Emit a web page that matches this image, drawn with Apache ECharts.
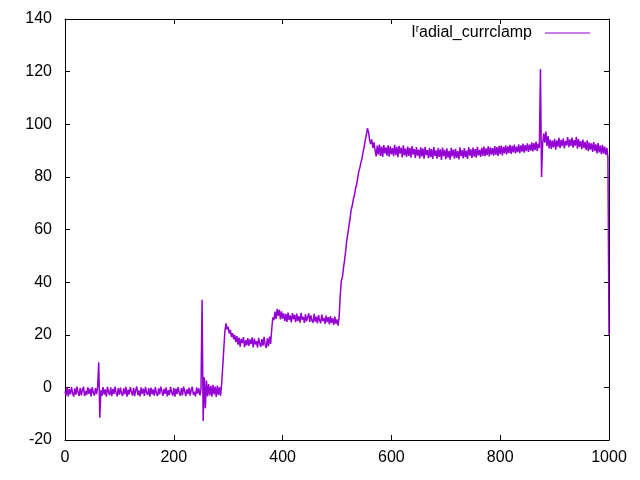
<!DOCTYPE html>
<html>
<head>
<meta charset="utf-8">
<script src="https://cdn.jsdelivr.net/npm/echarts@6/dist/echarts.min.js"></script>
<style>html,body{margin:0;padding:0;background:#fff}#c{width:640px;height:480px}</style>
</head>
<body>
<div id="c"></div>
<script>
const seriesName = 'I_radial_currclamp';
const sampleStep = 2; // x spacing of the samples below (x = 0, 2, 4, ... 1000)
const xTicks = [0, 200, 400, 600, 800, 1000];
const yTicks = [-20, 0, 20, 40, 60, 80, 100, 120, 140];
const currentValues = [
-1.5,-3.1,0.2,-3.4,-0.7,-2.6,0.1,-2.2,-3.5,-0.4,
-2.8,0.3,-1.9,-3.2,-0.2,-3.0,-1.0,0.2,-3.3,-1.4,
-2.9,0.0,-2.5,-0.5,-3.4,0.1,-2.0,-3.1,-0.3,-2.6,
0.3,9.5,-11.5,
-1.1,-3.2,0.1,-2.7,-0.8,-3.5,0.2,-1.8,-3.0,0.0,
-3.3,-0.6,-2.5,0.3,-2.1,-3.4,-0.3,-2.8,-0.1,-2.4,
-3.2,-0.4,-2.6,0.2,-3.5,-0.9,-2.7,0.1,-1.6,-3.1,
-0.2,-3.3,-1.0,0.3,-3.0,-1.2,-3.4,0.0,-2.5,-0.5,
-3.2,0.2,-2.0,-2.9,-0.3,-3.5,-0.1,-2.6,-0.8,-3.1,
0.1,-2.2,-3.3,-0.4,-2.7,0.3,-1.4,-3.2,-0.6,-2.5,
0.0,-3.4,-1.1,-2.9,0.2,-1.9,-3.1,-0.2,-3.5,-0.5,
-2.6,0.1,-2.1,-3.2,-0.3,-3.0,0.3,-1.5,-3.3,-0.8,
-2.5,-0.1,-3.1,-1.0,0.2,-2.9,-1.7,-3.4,0.0,-2.4,
-0.4,-3.0,
-0.8,33.3,-12.8,3.8,-7.9,2.6,-3.4,1.3,-3.1,0.6,-3.5,1.0,-2.7,0.3,-3.6,0.7,-2.9,0.1,-3.2,
1.5,8.0,15.0,21.5,24.3,22.0,23.0,20.5,21.8,19.2,20.6,18.3,19.9,17.2,19.5,
16.2,18.9,15.5,18.4,16.8,19.1,15.3,17.9,16.0,18.7,
15.8,18.2,16.5,19.0,15.2,18.5,16.3,17.6,15.1,18.8,
16.6,15.4,18.3,15.9,19.2,16.1,15.0,18.6,15.7,19.3,
16.5,22.0,26.5,25.5,28.8,26.0,29.8,27.2,29.5,25.8,28.9,26.1,
28.1,25.2,27.9,24.9,28.4,25.6,27.3,24.7,28.2,25.9,
27.6,24.8,28.0,25.3,27.1,24.6,28.3,25.7,26.8,24.5,
27.8,25.1,26.6,28.1,24.9,27.4,25.4,24.6,27.9,25.0,
26.9,24.3,27.5,25.5,24.4,27.7,25.2,26.4,24.1,27.3,
24.8,26.7,23.9,27.1,24.5,26.2,23.7,26.9,24.2,25.8,
23.5,27.0,35.0,40.5,42.0,45.5,48.5,52.0,56.0,58.5,
61.5,64.0,67.5,69.0,71.5,73.0,75.5,77.0,79.5,82.0,
83.5,85.5,87.0,89.5,91.5,94.0,96.0,98.5,97.0,94.0,
92.5,94.2,91.0,93.1,90.2,
87.8,91.9,88.4,92.3,88.0,91.5,87.6,92.1,88.9,91.2,
88.1,92.0,87.7,91.6,88.6,90.9,87.9,92.2,88.3,91.4,
87.5,91.8,88.8,91.1,87.4,92.0,88.2,90.7,87.6,91.5,
88.0,91.0,87.3,91.7,88.5,90.6,87.2,91.3,88.1,90.4,
87.0,91.2,87.8,90.8,86.9,91.4,88.3,90.2,87.1,91.0,
87.5,90.6,86.8,91.3,88.0,90.1,86.9,90.9,87.6,90.5,
86.4,91.1,87.9,90.3,86.7,90.8,87.3,89.9,86.5,91.0,
87.8,90.4,86.9,90.7,87.2,89.8,86.6,91.2,87.9,90.2,
87.0,90.9,87.5,90.0,86.8,91.3,88.1,90.5,87.2,91.1,
87.7,90.6,87.3,91.4,88.2,90.3,87.6,91.0,88.0,91.5,
87.9,90.8,88.3,91.6,87.8,91.2,88.5,90.9,88.1,91.7,
88.4,91.3,88.0,91.8,
88.6,91.9,88.2,91.4,88.9,92.0,88.5,91.6,89.1,92.2,
88.7,91.8,89.3,92.3,88.9,91.5,89.4,92.4,89.0,92.0,
89.6,92.6,89.2,92.1,89.8,92.7,89.5,92.3,90.0,93.1,
89.7,92.8,90.2,93.4,89.9,92.6,
91.0,121.0,80.0,92.5,96.5,93.0,97.2,91.8,95.5,90.8,94.2,
90.6,93.8,91.2,94.5,90.3,93.9,91.5,94.8,90.9,94.1,
91.7,94.6,90.8,93.7,92.0,95.1,91.3,94.3,91.8,94.9,
91.1,94.0,91.9,95.2,90.7,94.4,91.4,93.6,90.5,94.2,
91.0,93.3,90.2,93.9,89.8,93.0,90.4,92.7,89.5,93.2,
89.9,92.4,88.9,92.8,89.3,91.9,88.6,92.2,88.8,91.5,
88.4,
91.0,87.5,20.0
];

const lineColor = '#9400d3';
const font = '"Liberation Sans", Arial, sans-serif';
const fs = 16;
const points = currentValues.map((v, i) => [i * sampleStep, v]);

const xMin = xTicks[0], xMax = xTicks[xTicks.length - 1], xInt = xTicks[1] - xTicks[0];
const yMin = yTicks[0], yMax = yTicks[yTicks.length - 1], yInt = yTicks[1] - yTicks[0];

const axisCommon = {
  axisLine: { show: true, onZero: false, lineStyle: { color: '#000', width: 1 } },
  axisTick: { show: true, inside: true, length: 5, lineStyle: { color: '#000', width: 1 } },
  splitLine: { show: false },
  minorTick: { show: false }
};
const plainLabel = function (v) { return String(v); };

const chart = echarts.init(document.getElementById('c'), null, { renderer: 'canvas' });
chart.setOption({
  animation: false,
  backgroundColor: '#fff',
  textStyle: { fontFamily: font },
  grid: { left: 65, right: 31, top: 19, bottom: 40, outerBoundsMode: 'none', containLabel: false },
  legend: {
    show: true,
    right: 50,
    top: 24,
    padding: 0,
    align: 'right',
    icon: 'rect',
    itemWidth: 45,
    itemHeight: 1,
    data: [seriesName],
    formatter: function () { return '{a|I}{b|r}{a|adial_currclamp}'; },
    textStyle: {
      color: '#000',
      fontSize: fs,
      fontFamily: font,
      padding: [0, 8, 0, 0],
      rich: {
        a: { fontSize: fs, fontFamily: font, color: '#000', lineHeight: 18 },
        b: { fontSize: 10, fontFamily: font, color: '#000', verticalAlign: 'top', lineHeight: 10 }
      }
    }
  },
  xAxis: [
    Object.assign({
      type: 'value', position: 'bottom', min: xMin, max: xMax, interval: xInt,
      axisLabel: { show: true, color: '#000', fontSize: fs, fontFamily: font, margin: 10, formatter: plainLabel }
    }, axisCommon),
    Object.assign({
      type: 'value', position: 'top', min: xMin, max: xMax, interval: xInt,
      axisLabel: { show: false }
    }, axisCommon)
  ],
  yAxis: [
    Object.assign({
      type: 'value', position: 'left', min: yMin, max: yMax, interval: yInt,
      axisLabel: { show: true, color: '#000', fontSize: fs, fontFamily: font, margin: 13, formatter: plainLabel }
    }, axisCommon),
    Object.assign({
      type: 'value', position: 'right', min: yMin, max: yMax, interval: yInt,
      axisLabel: { show: false }
    }, axisCommon)
  ],
  series: [{
    name: seriesName,
    type: 'line',
    xAxisIndex: 0,
    yAxisIndex: 0,
    data: points,
    showSymbol: false,
    symbol: 'none',
    sampling: null,
    color: lineColor,
    lineStyle: { color: lineColor, width: 1.5 },
    itemStyle: { color: lineColor },
    emphasis: { disabled: true }
  }]
});
</script>
</body>
</html>
